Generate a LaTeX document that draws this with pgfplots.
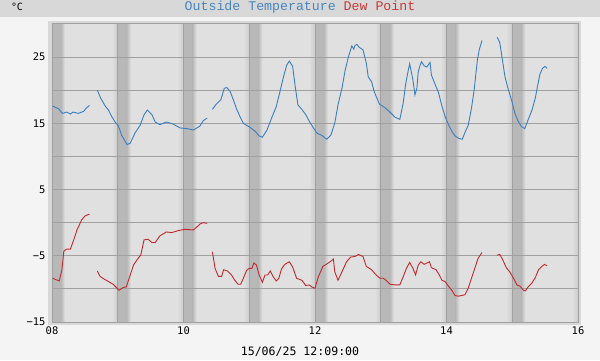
\documentclass[border=0pt]{standalone}
\usepackage{fontspec}
\usepackage{pgfplots}
\pgfplotsset{compat=1.18}
\usepackage{pgfplotstable}
\setmainfont{DejaVu Sans Mono}
\newfontfamily\titlefont{Liberation Mono}
\definecolor{tempblue}{HTML}{3A7DC0}
\definecolor{dewred}{HTML}{C0282D}
\definecolor{titleblue}{HTML}{4A86C0}
\definecolor{titlered}{HTML}{C83A3A}
\definecolor{pagebg}{HTML}{F4F4F4}
\definecolor{barbg}{HTML}{D8D8D8}
\definecolor{plotbg}{HTML}{E0E0E0}
\definecolor{gridc}{HTML}{A0A0A0}
\definecolor{bandc}{HTML}{B8B8B8}
\definecolor{bandl}{HTML}{CCCCCC}

\pgfplotstableread{
x t
8.01 17.6
8.10 17.2
8.16 16.5
8.22 16.7
8.28 16.4
8.32 16.7
8.40 16.5
8.48 16.8
8.52 17.3
8.57 17.7
8.63 nan
8.69 20.0
8.74 18.8
8.81 17.6
8.86 17.0
8.91 16.0
8.96 15.2
9.01 14.6
9.06 13.2
9.14 11.8
9.19 12.0
9.26 13.5
9.34 14.7
9.40 16.3
9.45 17.0
9.52 16.3
9.57 15.2
9.64 14.8
9.74 15.2
9.84 14.9
9.95 14.3
10.05 14.2
10.15 14.0
10.22 14.4
10.25 14.6
10.30 15.4
10.36 15.8
10.40 nan
10.44 17.1
10.49 17.8
10.57 18.6
10.62 20.3
10.66 20.4
10.71 19.8
10.76 18.5
10.81 17.1
10.86 16.0
10.91 15.0
11.01 14.4
11.09 13.8
11.15 13.1
11.20 12.9
11.27 14.0
11.34 15.8
11.41 17.5
11.46 19.5
11.52 22.0
11.57 23.8
11.61 24.4
11.66 23.6
11.70 20.5
11.74 17.8
11.80 17.1
11.86 16.3
11.92 15.2
11.97 14.4
12.03 13.5
12.10 13.2
12.18 12.6
12.24 13.2
12.30 15.0
12.35 17.8
12.41 20.3
12.46 23.1
12.51 25.1
12.56 26.7
12.59 26.2
12.61 26.8
12.64 26.9
12.67 26.5
12.73 26.1
12.78 24.1
12.81 22.0
12.86 21.3
12.90 19.8
12.98 17.9
13.06 17.4
13.14 16.7
13.22 15.9
13.29 15.6
13.34 18.0
13.38 21.0
13.42 23.1
13.44 24.0
13.49 21.5
13.52 19.3
13.55 20.3
13.57 22.8
13.60 23.8
13.62 24.3
13.66 23.7
13.70 23.5
13.75 24.2
13.77 22.3
13.83 20.8
13.88 19.6
13.93 17.6
13.98 16.0
14.03 14.8
14.08 13.8
14.13 13.1
14.19 12.7
14.24 12.6
14.28 13.6
14.33 14.7
14.38 17.3
14.42 20.0
14.47 24.6
14.50 26.2
14.54 27.5
14.65 nan
14.77 28.0
14.81 27.2
14.85 24.6
14.89 22.0
14.94 20.1
14.99 18.5
15.04 16.5
15.09 15.3
15.14 14.5
15.19 14.2
15.24 15.5
15.30 17.0
15.35 18.8
15.39 20.9
15.42 22.4
15.46 23.3
15.50 23.6
15.53 23.3
}\temptable

\pgfplotstableread{
x d
8.01 -8.4
8.06 -8.6
8.11 -8.8
8.15 -7.2
8.18 -4.3
8.22 -4.0
8.28 -4.0
8.33 -2.6
8.38 -1.1
8.45 0.4
8.50 1.0
8.57 1.3
8.63 nan
8.69 -7.3
8.73 -8.1
8.79 -8.5
8.86 -8.9
8.93 -9.3
8.98 -9.8
9.02 -10.2
9.08 -9.8
9.13 -9.7
9.18 -8.2
9.24 -6.4
9.30 -5.5
9.35 -4.9
9.40 -2.6
9.46 -2.5
9.52 -3.0
9.57 -3.0
9.64 -2.0
9.74 -1.4
9.82 -1.5
9.92 -1.2
10.02 -1.0
10.15 -1.1
10.22 -0.5
10.25 -0.2
10.30 0.0
10.36 -0.1
10.40 nan
10.44 -4.4
10.48 -6.9
10.53 -8.1
10.58 -8.1
10.61 -7.1
10.67 -7.3
10.73 -7.9
10.78 -8.7
10.83 -9.3
10.87 -9.3
10.91 -8.4
10.96 -7.2
11.00 -6.9
11.04 -6.9
11.07 -6.1
11.11 -6.4
11.15 -7.9
11.20 -9.0
11.24 -7.9
11.28 -7.9
11.32 -7.3
11.36 -8.1
11.41 -8.8
11.45 -8.4
11.49 -7.0
11.54 -6.3
11.61 -5.9
11.66 -6.7
11.72 -8.4
11.80 -8.7
11.86 -9.5
11.91 -9.4
11.95 -9.7
12.00 -9.9
12.05 -8.2
12.12 -6.6
12.17 -6.3
12.23 -5.9
12.28 -5.5
12.30 -7.4
12.35 -8.7
12.42 -7.2
12.48 -5.9
12.54 -5.2
12.61 -5.1
12.66 -4.8
12.73 -5.1
12.78 -6.6
12.86 -7.1
12.93 -7.9
12.99 -8.4
13.04 -8.4
13.08 -8.7
13.14 -9.3
13.22 -9.4
13.29 -9.4
13.34 -8.2
13.39 -6.9
13.44 -6.0
13.49 -6.9
13.53 -7.9
13.57 -6.4
13.61 -5.9
13.66 -6.3
13.70 -6.1
13.74 -5.9
13.77 -6.8
13.84 -7.1
13.89 -7.9
13.93 -8.7
13.98 -8.9
14.03 -9.6
14.08 -10.2
14.13 -11.0
14.18 -11.1
14.28 -10.9
14.33 -9.9
14.38 -8.4
14.43 -6.9
14.48 -5.4
14.54 -4.5
14.65 nan
14.77 -4.9
14.81 -4.8
14.85 -5.5
14.91 -6.8
14.96 -7.4
15.02 -8.4
15.07 -9.4
15.12 -9.6
15.17 -10.2
15.20 -10.3
15.24 -9.7
15.30 -9.1
15.35 -8.3
15.40 -7.1
15.45 -6.6
15.49 -6.3
15.53 -6.5
}\dewtable

\begin{document}
\begin{tikzpicture}[x=1bp,y=1bp]
\useasboundingbox (0,0) rectangle (600,360);
\fill[pagebg] (0,0) rectangle (600,360);
\fill[barbg] (0,343) rectangle (600,360);
\fill[barbg] (48,35) rectangle (581,339);
\fill[plotbg] (52,38) rectangle (578,336);
\begin{scope}
\clip (52,38) rectangle (578,336);
\foreach \d in {0,...,8}{
  \pgfmathsetmacro\xx{52+\d*65.75}
  \shade[left color=plotbg,right color=bandl] ({\xx-6},38) rectangle ({\xx},336);
  \fill[bandc] ({\xx},38) rectangle ({\xx+9},336);
  \shade[left color=bandc,right color=plotbg] ({\xx+9},38) rectangle ({\xx+13},336);
}
\end{scope}
\node[font=\fontsize{10}{12}\selectfont] at (17,353) {°C};
\node[font=\titlefont\fontsize{13.3}{15}\selectfont] at (300,353) {\textcolor{titleblue}{Outside Temperature} \textcolor{titlered}{Dew Point}};
\node[font=\fontsize{11.6}{13}\selectfont] at (300,8.5) {15/06/25 12:09:00};
\begin{axis}[
  at={(52bp,38bp)}, anchor=south west,
  scale only axis, width=526bp, height=298bp,
  xmin=8, xmax=16, ymin=-15, ymax=30,
  xtick={8,...,16}, xticklabels={08,,10,,12,,14,,16},
  ytick={-15,-10,...,30}, yticklabels={−15,,−5,,5,,15,,25,},
  grid=major, major grid style={gridc, line width=1bp},
  axis line style={gridc, line width=1bp},
  major tick length=0pt,
  tick label style={font=\fontsize{10.5}{12}\selectfont},
  xticklabel style={yshift=-1.5bp},
  yticklabel style={xshift=-3bp},
  unbounded coords=jump,
]
\addplot[tempblue, line width=0.9bp] table[x=x,y=t] {\temptable};
\addplot[dewred, line width=0.9bp] table[x=x,y=d] {\dewtable};
\end{axis}
\end{tikzpicture}
\end{document}
